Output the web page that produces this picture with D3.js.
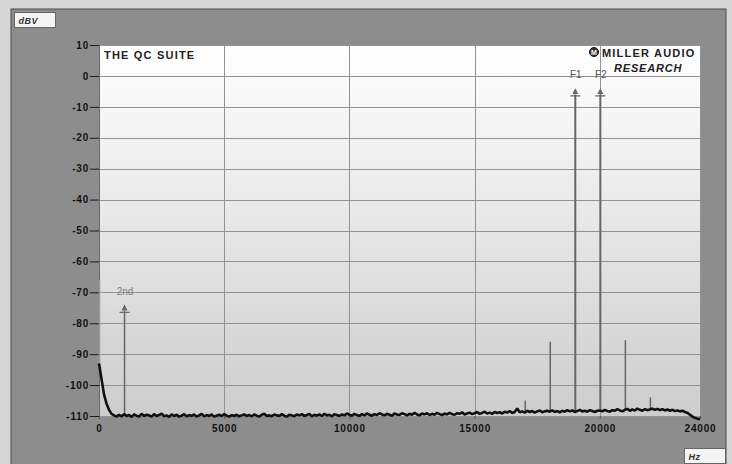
<!DOCTYPE html>
<html>
<head>
<meta charset="utf-8">
<script src="https://cdn.jsdelivr.net/npm/d3@7"></script>
<style>
  body { margin: 0; background: #d6d6d6; }
  svg { display: block; font-family: 'Liberation Sans', Arial, sans-serif; }
  .tickLabel { font-size: 10px; font-weight: bold; fill: #111; letter-spacing: 0.8px; }
</style>
</head>
<body>
<script>
// ! Data
const yTicks = [10, 0, -10, -20, -30, -40, -50, -60, -70, -80, -90, -100, -110];
const xTicks = [0, 5000, 10000, 15000, 20000, 24000];
const stepHz = 100;
// noise floor, one value every 100 Hz, 0 .. 24000 Hz
const floorDb = [
  -93, -98, -103, -106, -108, -109.3, -109.8, -110.2, -109.6, -110.1, -109.4, -110.0, -109.7, -110.3, -109.5, -109.9, -110.2, -109.3, -110.0, -109.6,
  -109.8, -110.2, -109.4, -110.0, -109.7, -109.2, -110.1, -109.8, -110.3, -109.5, -110.0, -109.6, -110.2, -109.9, -109.4, -110.1, -109.7, -110.0, -109.5, -110.2,
  -109.8, -109.3, -110.1, -109.7, -110.0, -109.5, -110.2, -109.9, -109.6, -110.0, -109.4, -109.9, -110.2, -109.7, -110.0, -109.6, -110.1, -109.8, -109.5, -110.0,
  -109.7, -110.1, -109.5, -109.9, -110.2, -109.6, -109.3, -110.0, -109.8, -110.1, -109.5, -109.8, -110.0, -109.4, -109.9, -110.2, -109.6, -109.8, -110.1, -109.5,
  -109.8, -109.4, -110.0, -109.7, -109.3, -110.1, -109.6, -109.9, -109.5, -110.0, -109.3, -109.8, -109.6, -110.1, -109.4, -109.7, -110.0, -109.5, -109.8, -109.2,
  -109.6, -109.9, -109.3, -109.7, -110.0, -109.4, -109.8, -109.2, -109.6, -109.9, -109.4, -109.7, -109.1, -109.5, -109.8, -109.3, -109.6, -109.9, -109.2, -109.5,
  -109.7, -109.1, -109.4, -109.8, -109.3, -109.6, -109.0, -109.5, -109.8, -109.2, -109.5, -109.1, -109.7, -109.3, -109.6, -109.0, -109.4, -109.7, -109.2, -109.5,
  -109.0, -109.4, -109.6, -109.1, -109.3, -108.8, -109.5, -109.2, -108.9, -109.4, -109.1, -108.7, -109.3, -109.0, -108.6, -109.2, -108.9, -109.3, -108.7, -109.0,
  -108.8, -109.2, -108.6, -108.9, -108.4, -109.0, -108.7, -107.6, -108.8, -108.5, -108.9, -108.3, -108.7, -108.4, -108.9, -108.5, -108.2, -108.8, -108.5, -108.3,
  -108.6, -108.2, -108.7, -108.4, -108.8, -108.3, -108.6, -108.1, -108.5, -108.2, -108.7, -108.4, -108.0, -108.5, -108.3, -108.6, -108.1, -108.4, -108.7, -108.3,
  -108.2, -108.5, -108.0, -108.4, -108.6, -108.1, -108.3, -107.8, -108.2, -108.5, -108.0, -107.7, -108.3, -107.9, -108.2, -107.6, -108.0, -108.3, -107.8, -108.1,
  -107.9, -107.6, -108.0, -107.7, -108.1, -107.8, -108.2, -107.9, -108.3, -108.0, -108.4, -108.2, -108.5, -108.3, -108.7, -109.0, -109.6, -110.2, -110.6, -110.9,
  -111.0,
];
// discrete tones / spurs
const peakHz = [0, 1000, 17000, 18000, 19000, 20000, 21000, 22000];
const peakDb = [-66, -76, -105, -86, -6, -6, -85.5, -104];
const peakLabel = ['', '2nd', '', '', 'F1', 'F2', '', ''];
const markedPeaks = [1000, 19000, 20000];

// ! Canvas
const width = 732;
const height = 464;
const svg = d3.select('body').append('svg').attr('width', width).attr('height', height);

// * outer frame and dark panel
svg.append('rect').attr('width', width).attr('height', height).attr('fill', '#d6d6d6');
svg.append('rect').attr('x', 11).attr('y', 9).attr('width', 715).attr('height', 460)
  .attr('fill', '#8d8d8d').attr('stroke', '#4a4a4a').attr('stroke-width', 1);

// * scales
const x = d3.scaleLinear().domain([0, 24000]).range([99, 700]);
const y = d3.scaleLinear().domain([-110, 10]).range([416, 45]);

// * plot area gradient
const grad = svg.append('defs').append('linearGradient')
  .attr('id', 'bg').attr('x1', 0).attr('y1', 0).attr('x2', 0).attr('y2', 1);
grad.append('stop').attr('offset', '0%').attr('stop-color', '#ffffff');
grad.append('stop').attr('offset', '100%').attr('stop-color', '#cdcdcd');
svg.append('rect')
  .attr('x', x(0)).attr('y', y(10))
  .attr('width', x(24000) - x(0)).attr('height', y(-110) - y(10))
  .attr('fill', 'url(#bg)');

// * grid
const grid = svg.append('g').attr('stroke', '#939393').attr('stroke-width', 1);
grid.selectAll('line.h').data(yTicks).enter().append('line')
  .attr('x1', x(0)).attr('x2', x(24000))
  .attr('y1', (d) => Math.round(y(d)) + 0.5).attr('y2', (d) => Math.round(y(d)) + 0.5);
grid.selectAll('line.v').data(xTicks.slice(1)).enter().append('line')
  .attr('y1', y(10)).attr('y2', y(-110))
  .attr('x1', (d) => Math.round(x(d)) + 0.5).attr('x2', (d) => Math.round(x(d)) + 0.5);
svg.append('line').attr('x1', x(0) + 0.5).attr('x2', x(0) + 0.5)
  .attr('y1', y(10)).attr('y2', y(-110)).attr('stroke', '#6a6a6a');

// * axes
const yAxis = d3.axisLeft(y).tickValues(yTicks).tickSize(9).tickPadding(1).tickFormat((d) => String(d));
svg.append('g').attr('transform', `translate(${x(0)},0)`).call(yAxis)
  .call((g) => g.select('.domain').remove())
  .call((g) => g.selectAll('.tick line').attr('stroke', '#1a1a1a'))
  .call((g) => g.selectAll('.tick text').attr('class', 'tickLabel').attr('font-family', null).attr('font-size', null));
const xAxis = d3.axisBottom(x).tickValues(xTicks).tickSize(3).tickPadding(6).tickFormat((d) => String(d));
svg.append('g').attr('transform', `translate(0,${y(-110)})`).call(xAxis)
  .call((g) => g.select('.domain').remove())
  .call((g) => g.selectAll('.tick line').attr('stroke', '#555'))
  .call((g) => g.selectAll('.tick text').attr('class', 'tickLabel').attr('font-family', null).attr('font-size', null));

// * unit boxes
function unitBox(bx, by, bw, bh, label) {
  svg.append('rect').attr('x', bx).attr('y', by).attr('width', bw).attr('height', bh)
    .attr('fill', '#f4f4f4').attr('stroke', '#666');
  svg.append('text').attr('x', bx + 4).attr('y', by + bh - 4)
    .attr('font-size', 9).attr('font-weight', 'bold').attr('font-style', 'italic')
    .attr('letter-spacing', 0.5).attr('fill', '#333').text(label);
}
unitBox(14.5, 12.5, 41, 15, 'dBV');
unitBox(684.5, 448.5, 41, 15, 'Hz');

// ! Spectrum
const clipY = (v) => y(Math.max(v, -111));
const floorAt = (f) => floorDb[Math.round(f / stepHz)];
const peaks = peakHz.map((f, i) => ({ f, db: peakDb[i], label: peakLabel[i] }));

// stems from floor up to tone level
svg.append('g').selectAll('line').data(peaks).enter().append('line')
  .attr('x1', (d) => x(d.f) + 0.5).attr('x2', (d) => x(d.f) + 0.5)
  .attr('y1', (d) => clipY(floorAt(d.f)))
  .attr('y2', (d) => y(d.db))
  .attr('stroke', (d) => (d.f === 0 ? '#9a9a9a' : '#666'))
  .attr('stroke-width', (d) => (d.db > -20 ? 2 : 1.5));

// noise floor trace
const line = d3.line().x((d, i) => x(i * stepHz)).y((d) => clipY(d));
svg.append('path').datum(floorDb)
  .attr('d', line).attr('fill', 'none')
  .attr('stroke', '#111').attr('stroke-width', 2.6).attr('stroke-linejoin', 'bevel');

// markers and labels on the tones
const marked = peaks.filter((d) => markedPeaks.includes(d.f));
const mk = svg.append('g').attr('fill', '#666').attr('stroke', '#666');
mk.selectAll('path').data(marked).enter().append('path')
  .attr('transform', (d) => `translate(${x(d.f) + 0.5},${y(d.db)})`)
  .attr('d', 'M-5,1.5H5M0,-5L-2,-1H2Z')
  .attr('stroke-width', 1.2);
svg.selectAll('text.peak').data(marked).enter().append('text')
  .attr('class', 'peak')
  .attr('x', (d) => x(d.f) + 1).attr('y', (d) => y(d.db) - 16)
  .attr('text-anchor', 'middle').attr('font-size', 10)
  .attr('fill', (d) => (d.f === 1000 ? '#808080' : '#555'))
  .text((d) => d.label);

// ! Captions
svg.append('text').attr('x', 104).attr('y', 59)
  .attr('font-size', 11).attr('font-weight', 'bold').attr('fill', '#222')
  .attr('letter-spacing', 1.2).text('THE QC SUITE');
svg.append('circle').attr('cx', 594).attr('cy', 52).attr('r', 4.5)
  .attr('fill', '#333').attr('stroke', '#111');
svg.append('text').attr('x', 594).attr('y', 55).attr('text-anchor', 'middle')
  .attr('font-size', 7).attr('font-weight', 'bold').attr('fill', '#fff').text('M');
svg.append('text').attr('x', 602).attr('y', 57)
  .attr('font-size', 11).attr('font-weight', 'bold').attr('fill', '#222')
  .attr('letter-spacing', 1.2).text('MILLER AUDIO');
svg.append('text').attr('x', 614).attr('y', 72)
  .attr('font-size', 11).attr('font-weight', 'bold').attr('font-style', 'italic').attr('fill', '#222')
  .attr('letter-spacing', 0.8).text('RESEARCH');
</script>
</body>
</html>
